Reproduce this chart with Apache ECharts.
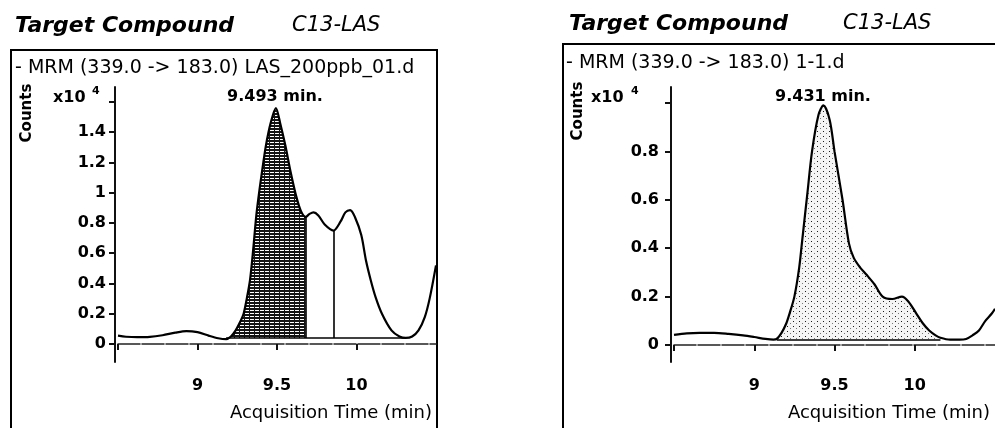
<!DOCTYPE html>
<html>
<head>
<meta charset="utf-8">
<script src="https://cdn.jsdelivr.net/npm/echarts@6/dist/echarts.min.js"></script>
<style>
  html, body { margin: 0; padding: 0; background: #fff; }
  #chart { width: 995px; height: 428px; }
</style>
</head>
<body>
<div id="chart"></div>
<script>
// Chromatogram traces, counts in units of 10^4
const leftTime = [8.50, 8.55, 8.62, 8.70, 8.78, 8.86, 8.93, 9.00, 9.07, 9.13, 9.18, 9.21, 9.24, 9.27, 9.29, 9.31, 9.33, 9.35, 9.37, 9.39, 9.41, 9.43, 9.46, 9.493, 9.52, 9.553, 9.585, 9.62, 9.65, 9.68, 9.705, 9.73, 9.76, 9.80, 9.855, 9.90, 9.93, 9.96, 9.99, 10.03, 10.06, 10.09, 10.12, 10.16, 10.22, 10.27, 10.31, 10.35, 10.39, 10.43, 10.46, 10.50];
const leftCounts = [0.055, 0.048, 0.045, 0.047, 0.058, 0.075, 0.085, 0.078, 0.055, 0.038, 0.032, 0.05, 0.09, 0.15, 0.20, 0.30, 0.42, 0.62, 0.85, 1.02, 1.17, 1.31, 1.46, 1.56, 1.46, 1.31, 1.14, 0.98, 0.88, 0.84, 0.86, 0.87, 0.85, 0.79, 0.75, 0.81, 0.87, 0.885, 0.84, 0.72, 0.55, 0.42, 0.31, 0.20, 0.09, 0.05, 0.04, 0.05, 0.09, 0.18, 0.30, 0.52];

const rightTime = [8.50, 8.58, 8.66, 8.75, 8.84, 8.93, 9.00, 9.07, 9.12, 9.14, 9.17, 9.20, 9.22, 9.25, 9.28, 9.30, 9.33, 9.36, 9.40, 9.431, 9.47, 9.50, 9.55, 9.59, 9.62, 9.66, 9.70, 9.75, 9.80, 9.86, 9.92, 9.96, 10.01, 10.05, 10.09, 10.13, 10.16, 10.22, 10.28, 10.32, 10.36, 10.40, 10.44, 10.48, 10.50];
const rightCounts = [0.042, 0.048, 0.050, 0.050, 0.046, 0.040, 0.033, 0.025, 0.022, 0.025, 0.05, 0.09, 0.13, 0.20, 0.32, 0.44, 0.62, 0.80, 0.95, 0.99, 0.93, 0.80, 0.60, 0.42, 0.36, 0.32, 0.29, 0.25, 0.20, 0.19, 0.20, 0.18, 0.13, 0.09, 0.06, 0.04, 0.03, 0.022, 0.022, 0.025, 0.04, 0.06, 0.10, 0.13, 0.15];

// Integration windows and baselines
const leftWindow = [9.18, 9.68];
const leftBaseline = 0.04;
const leftBaselineEnd = 10.31;
const leftSplit = 9.855;
const rightWindow = [9.14, 10.16];
const rightBaseline = 0.022;

// Axis ticks and annotations
const xTickValues = [8.5, 9, 9.5, 10];
const xLabelValues = [9, 9.5, 10];
const leftYTicks = [0, 0.2, 0.4, 0.6, 0.8, 1, 1.2, 1.4, 1.6];
const rightYTicks = [0, 0.2, 0.4, 0.6, 0.8, 1];
const scaleText = 'x10';
const scaleExp = '4';
const leftRT = '9.493 min.';
const rightRT = '9.431 min.';
const leftTrace = '- MRM (339.0 -> 183.0) LAS_200ppb_01.d';
const rightTrace = '- MRM (339.0 -> 183.0) 1-1.d';
const compoundLabel = 'Target Compound';
const compoundName = 'C13-LAS';
const xName = 'Acquisition Time (min)';
const yName = 'Counts';

const SANS = '"DejaVu Sans", sans-serif';

// white broken stripes laid over a dark fill
function hatchPattern() {
  const c = document.createElement('canvas');
  c.width = 5; c.height = 3;
  const g = c.getContext('2d');
  g.fillStyle = '#fff';
  g.fillRect(0, 1, 4, 1);
  return c;
}
// sparse stipple dots
function dotPattern() {
  const c = document.createElement('canvas');
  c.width = 6; c.height = 5;
  const g = c.getContext('2d');
  g.fillStyle = '#1a1a1a';
  g.fillRect(1, 1, 1, 1);
  g.fillStyle = '#777';
  g.fillRect(4, 3, 1, 1);
  return c;
}

function pairs(t, v) { return t.map((x, i) => [x, v[i]]); }
function valueAt(t, v, x) { return v[t.indexOf(x)]; }

// Filled integration area between the trace and its baseline
function shadeSeries(t, v, win, base, gi, baseFill, pattern) {
  const pts = pairs(t, v).filter(p => p[0] >= win[0] - 1e-9 && p[0] <= win[1] + 1e-9);
  return {
    type: 'custom', coordinateSystem: 'cartesian2d', xAxisIndex: gi, yAxisIndex: gi,
    data: [[win[0], base]], silent: true, z: 1,
    renderItem: (params, api) => {
      const poly = [api.coord([win[0], base])]
        .concat(pts.map(p => api.coord(p)))
        .concat([api.coord([win[1], base])]);
      return {
        type: 'group',
        children: [
          { type: 'polygon', shape: { points: poly }, style: { fill: baseFill, stroke: null } },
          { type: 'polygon', shape: { points: poly }, style: { fill: { image: pattern, repeat: 'repeat' }, stroke: null } }
        ]
      };
    }
  };
}

function fmt(v) { return String(Math.round(v * 10) / 10); }

function xAxis(gi) {
  return {
    type: 'value', gridIndex: gi, min: 8.5, max: 10.5, offset: 3,
    axisLine: { lineStyle: { color: '#222', width: 1.5, type: [22, 2] } },
    axisTick: { customValues: xTickValues, length: 6, lineStyle: { color: '#111', width: 2 } },
    axisLabel: { customValues: xLabelValues, margin: 13, color: '#000', fontFamily: SANS,
      fontWeight: 'bold', fontSize: 16, formatter: v => fmt(v) },
    splitLine: { show: false }
  };
}
// The top tick carries the x10^4 scale marker instead of a number
function yAxis(gi, min, max, ticks, margin) {
  return {
    type: 'value', gridIndex: gi, min: min, max: max, offset: 3,
    axisLine: { show: true, lineStyle: { color: '#111', width: 2 } },
    axisTick: { show: true, customValues: ticks, length: 6, lineStyle: { color: '#111', width: 2 } },
    axisLabel: {
      customValues: ticks.slice(0, -1), margin: margin, color: '#000', fontFamily: SANS,
      fontWeight: 'bold', fontSize: 16, formatter: v => fmt(v)
    },
    splitLine: { show: false }
  };
}

function traceLine(t, v, gi, marks) {
  return {
    type: 'line', xAxisIndex: gi, yAxisIndex: gi, data: pairs(t, v), smooth: 0.3,
    showSymbol: false, z: 3, lineStyle: { color: '#000', width: 2.2 },
    markLine: {
      silent: true, symbol: 'none', animation: false, label: { show: false },
      lineStyle: { color: '#000', width: 1.6, type: 'solid' },
      data: marks
    }
  };
}

function txt(x, y, s, font, align, extra) {
  return Object.assign({
    type: 'text', x: x, y: y, silent: true,
    style: { text: s, font: font, fill: '#000', align: align || 'left', verticalAlign: 'middle' }
  }, extra || {});
}
function seg(x1, y1, x2, y2) {
  return { type: 'line', silent: true, shape: { x1: x1, y1: y1, x2: x2, y2: y2 },
    style: { stroke: '#000', lineWidth: 2 } };
}

const chart = echarts.init(document.getElementById('chart'), null, { renderer: 'canvas' });

const leftMarks = [
  [{ coord: [leftWindow[0], leftBaseline] }, { coord: [leftBaselineEnd, leftBaseline] }],
  [{ coord: [leftWindow[1], leftBaseline] }, { coord: [leftWindow[1], valueAt(leftTime, leftCounts, leftWindow[1])] }],
  [{ coord: [leftSplit, leftBaseline] }, { coord: [leftSplit, valueAt(leftTime, leftCounts, leftSplit)] }]
];
const rightMarks = [
  [{ coord: [rightWindow[0], rightBaseline] }, { coord: [rightWindow[1], rightBaseline] }]
];

chart.setOption({
  animation: false,
  backgroundColor: '#fff',
  grid: [
    { left: 118, top: 87, width: 318, height: 275 },
    { left: 674, top: 87, width: 322, height: 275 }
  ],
  xAxis: [xAxis(0), xAxis(1)],
  yAxis: [
    yAxis(0, -0.119, 1.699, leftYTicks, 9),
    yAxis(1, -0.0702, 1.066, rightYTicks, 12)
  ],
  series: [
    shadeSeries(leftTime, leftCounts, leftWindow, leftBaseline, 0, '#141414', hatchPattern()),
    shadeSeries(rightTime, rightCounts, rightWindow, rightBaseline, 1, 'rgba(0,0,0,0.04)', dotPattern()),
    traceLine(leftTime, leftCounts, 0, leftMarks),
    traceLine(rightTime, rightCounts, 1, rightMarks)
  ],
  graphic: [
    // panel frames
    seg(11, 50, 437, 50), seg(11, 49, 11, 428), seg(437, 49, 437, 428),
    seg(563, 44, 995, 44), seg(563, 43, 563, 428),
    // headers
    txt(15, 26, compoundLabel, 'italic bold 22px ' + SANS),
    txt(292, 26, compoundName, 'italic 21px ' + SANS),
    txt(569, 24, compoundLabel, 'italic bold 22px ' + SANS),
    txt(843, 24, compoundName, 'italic 21px ' + SANS),
    txt(15, 68, leftTrace, '19px ' + SANS),
    txt(566, 63, rightTrace, '19px ' + SANS),
    txt(275, 97, leftRT, 'bold 16px ' + SANS, 'center'),
    txt(823, 97, rightRT, 'bold 16px ' + SANS, 'center'),
    // scale markers
    txt(53, 98, scaleText, 'bold 16px ' + SANS),
    txt(92, 91, scaleExp, 'bold 11px ' + SANS),
    txt(591, 98, scaleText, 'bold 16px ' + SANS),
    txt(631, 91, scaleExp, 'bold 11px ' + SANS),
    txt(27, 113, yName, 'bold 15px ' + SANS, 'center', { rotation: Math.PI / 2 }),
    txt(578, 111, yName, 'bold 15px ' + SANS, 'center', { rotation: Math.PI / 2 }),
    txt(432, 413, xName, '18px ' + SANS, 'right'),
    txt(990, 413, xName, '18px ' + SANS, 'right')
  ]
});
</script>
</body>
</html>
